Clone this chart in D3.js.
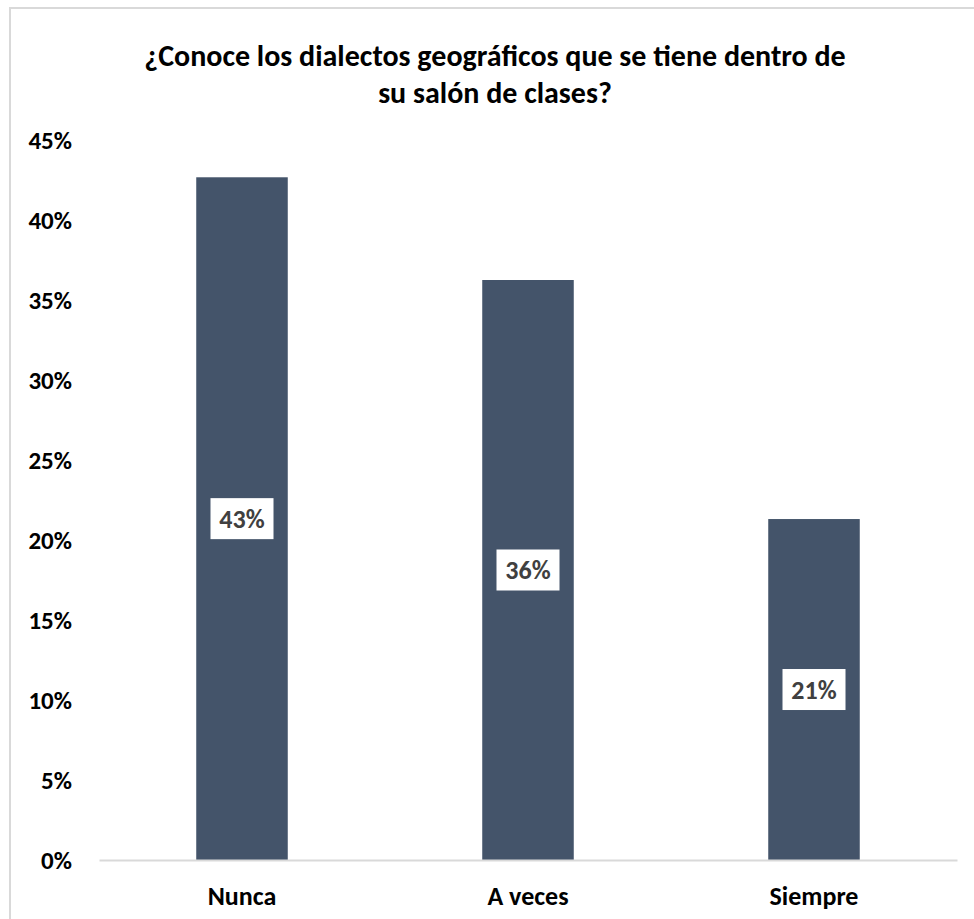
<!DOCTYPE html>
<html>
<head>
<meta charset="utf-8">
<script src="https://cdn.jsdelivr.net/npm/d3@7"></script>
<style>
  html, body { margin: 0; padding: 0; background: #fff; }
  svg text { font-family: "Carlito", "Lato", "Open Sans", sans-serif; font-weight: bold; }
</style>
</head>
<body>
<svg id="chart" width="974" height="919"></svg>
<script>
const titleLines = ["¿Conoce los dialectos geográficos que se tiene dentro de", "su salón de clases?"];
const categories = ["Nunca", "A veces", "Siempre"];
const values = [0.4267, 0.3625, 0.2131];
const valueLabels = ["43%", "36%", "21%"];
const yTicks = [0, 0.05, 0.10, 0.15, 0.20, 0.25, 0.30, 0.35, 0.40, 0.45];

const svg = d3.select("#chart");

// chart frame
svg.append("rect")
  .attr("x", 10).attr("y", 8)
  .attr("width", 980).attr("height", 930)
  .attr("fill", "#fff").attr("stroke", "#d9d9d9").attr("stroke-width", 2);

// title (two separate lines)
svg.append("g").selectAll("text").data(titleLines).join("text")
  .attr("text-anchor", "middle")
  .attr("fill", "#000")
  .style("font-size", "30px")
  .attr("x", 495)
  .attr("y", (d, i) => 66 + i * 37)
  .text(d => d);

const x = d3.scaleBand().domain(categories).range([99, 957]).paddingInner(0.68).paddingOuter(0.34);
const y = d3.scaleLinear().domain([0, 0.45]).range([860, 140]);

// y axis labels (no line)
const yAxis = d3.axisLeft(y).tickValues(yTicks).tickFormat(d3.format(".0%")).tickSize(0).tickPadding(0);
const gy = svg.append("g").attr("transform", "translate(72,0)").call(yAxis);
gy.select(".domain").remove();
gy.selectAll("text").attr("fill", "#000").style("font-size", "25px").attr("dy", "0.35em");

// bars
svg.append("g").selectAll("rect").data(values).join("rect")
  .attr("x", (d, i) => x(categories[i]))
  .attr("y", d => y(d))
  .attr("width", x.bandwidth())
  .attr("height", d => y(0) - y(d))
  .attr("fill", "#44546a");

// baseline
const xAxis = d3.axisBottom(x).tickSize(0).tickPadding(0);
const gx = svg.append("g").attr("transform", `translate(0,${y(0)})`).call(xAxis);
gx.select(".domain").attr("stroke", "#d9d9d9").attr("stroke-width", 2);
gx.selectAll("text").attr("fill", "#000").style("font-size", "26px").attr("y", 45).attr("dy", 0);

// data labels
const lab = svg.append("g").selectAll("g").data(values).join("g")
  .attr("transform", (d, i) => `translate(${x(categories[i]) + x.bandwidth() / 2},${(y(d) + y(0)) / 2})`);
lab.append("rect").attr("x", -31.5).attr("y", -20.5).attr("width", 63).attr("height", 41).attr("fill", "#fff");
lab.append("text").attr("text-anchor", "middle").attr("dy", "0.35em")
  .attr("fill", "#404040").style("font-size", "26px")
  .text((d, i) => valueLabels[i]);
</script>
</body>
</html>
